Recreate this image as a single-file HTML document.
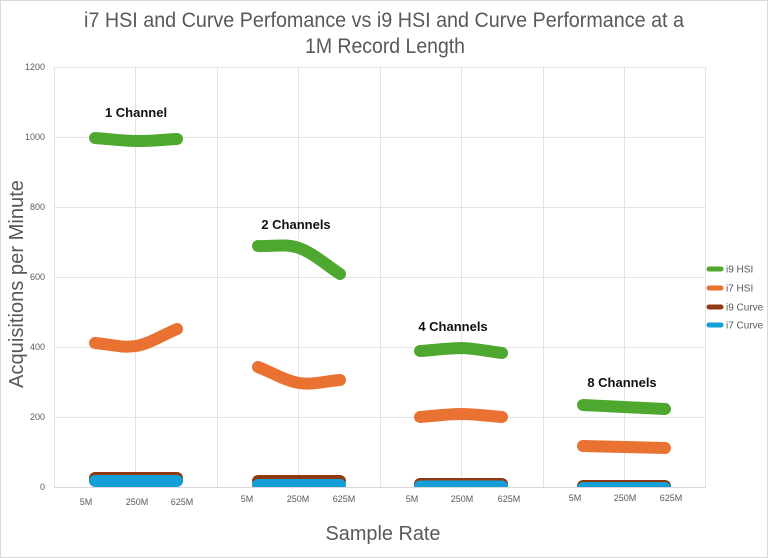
<!DOCTYPE html>
<html>
<head>
<meta charset="utf-8">
<style>
  html,body{margin:0;padding:0;background:#fff;}
  svg{display:block;}
  .t{font-family:"Liberation Sans Narrow","Liberation Sans",sans-serif;fill:#595959;}
  .s{font-family:"Liberation Sans",sans-serif;fill:#595959;}
  .b{font-family:"Liberation Sans",sans-serif;font-weight:bold;fill:#111;font-size:13px;text-anchor:middle;}
</style>
</head>
<body>
<svg width="768" height="558" viewBox="0 0 768 558" xmlns="http://www.w3.org/2000/svg">
  <rect x="0.5" y="0.5" width="767" height="557" fill="#fff" stroke="#d9d9d9" stroke-width="1"/>

  <!-- Title -->
  <text class="t" x="384" y="27" font-size="21" text-anchor="middle" textLength="600" lengthAdjust="spacingAndGlyphs">i7 HSI and Curve Perfomance vs i9 HSI and Curve Performance at a</text>
  <text class="t" x="385" y="53" font-size="21" text-anchor="middle" textLength="160" lengthAdjust="spacingAndGlyphs">1M Record Length</text>

  <!-- Gridlines -->
  <g stroke="#e3e3e3" stroke-width="1" fill="none">
    <line x1="54" y1="67.5" x2="706" y2="67.5"/>
    <line x1="54" y1="137.5" x2="706" y2="137.5"/>
    <line x1="54" y1="207.5" x2="706" y2="207.5"/>
    <line x1="54" y1="277.5" x2="706" y2="277.5"/>
    <line x1="54" y1="347.5" x2="706" y2="347.5"/>
    <line x1="54" y1="417.5" x2="706" y2="417.5"/>
    <line x1="54.5" y1="67" x2="54.5" y2="487"/>
    <line x1="135.5" y1="67" x2="135.5" y2="487"/>
    <line x1="217.5" y1="67" x2="217.5" y2="487"/>
    <line x1="298.5" y1="67" x2="298.5" y2="487"/>
    <line x1="380.5" y1="67" x2="380.5" y2="487"/>
    <line x1="461.5" y1="67" x2="461.5" y2="487"/>
    <line x1="543.5" y1="67" x2="543.5" y2="487"/>
    <line x1="624.5" y1="67" x2="624.5" y2="487"/>
    <line x1="705.5" y1="67" x2="705.5" y2="487"/>
  </g>
  <line x1="54" y1="487.5" x2="706" y2="487.5" stroke="#d9d9d9" stroke-width="1"/>

  <!-- Y tick labels -->
  <g class="s" font-size="9" text-anchor="end">
    <text x="45" y="70">1200</text>
    <text x="45" y="140">1000</text>
    <text x="45" y="210">800</text>
    <text x="45" y="280">600</text>
    <text x="45" y="350">400</text>
    <text x="45" y="420">200</text>
    <text x="45" y="490">0</text>
  </g>

  <!-- Y axis title -->
  <text class="t" x="0" y="0" font-size="20" text-anchor="middle" textLength="208" lengthAdjust="spacingAndGlyphs" transform="translate(23,284) rotate(-90)">Acquisitions per Minute</text>

  <!-- X axis title -->
  <text class="t" x="383" y="540" font-size="20" text-anchor="middle" textLength="115" lengthAdjust="spacingAndGlyphs">Sample Rate</text>

  <!-- X tick labels -->
  <g class="s" font-size="9" text-anchor="middle">
    <text x="86" y="505">5M</text><text x="137" y="505">250M</text><text x="182" y="505">625M</text>
    <text x="247" y="502">5M</text><text x="298" y="502">250M</text><text x="344" y="502">625M</text>
    <text x="412" y="502">5M</text><text x="462" y="502">250M</text><text x="509" y="502">625M</text>
    <text x="575" y="501">5M</text><text x="625" y="501">250M</text><text x="671" y="501">625M</text>
  </g>

  <defs>
    <clipPath id="pa"><rect x="40" y="60" width="680" height="427"/></clipPath>
  </defs>

  <g clip-path="url(#pa)" fill="none" stroke-width="12" stroke-linecap="round" stroke-linejoin="round">
    <!-- i9 HSI green -->
    <g stroke="#4ea72e">
      <path d="M95,138 C108.7,139 122.3,140.8 136,141 C149.7,141.2 163.3,139.7 177,139"/>
      <path d="M258,246 C271.7,246.7 285.3,243.3 299,248 C312.7,252.7 326.3,265 340,274"/>
      <path d="M420,351 C433.7,350 447.3,348.3 461,348 C474.7,348.3 488.3,351.3 502,353"/>
      <path d="M583,405 C596.7,405.7 610.3,406.3 624,407 C637.7,407.7 651.3,408.3 665,409"/>
    </g>
    <!-- i7 HSI orange -->
    <g stroke="#e97132">
      <path d="M95,343 C108.7,344 122.3,348.3 136,346 C149.7,343.7 163.3,334.7 177,329"/>
      <path d="M258,367 C271.7,372.3 285.3,380.8 299,383 C312.7,385.2 326.3,381 340,380"/>
      <path d="M420,417 C433.7,416 447.3,414 461,414 C474.7,414 488.3,416 502,417"/>
      <path d="M583,446 C596.7,446.3 610.3,446.7 624,447 C637.7,447.3 651.3,447.7 665,448"/>
    </g>
    <!-- i9 Curve brown -->
    <g stroke="#8e3b14">
      <path d="M95,478 L177,478"/>
      <path d="M258,481 L340,481"/>
      <path d="M420,484 L502,484"/>
      <path d="M583,486 L665,486"/>
    </g>
    <!-- i7 Curve blue -->
    <g stroke="#149fd6">
      <path d="M95,481 L177,481"/>
      <path d="M258,485 L340,485"/>
      <path d="M420,486.5 L502,486.5"/>
      <path d="M583,488 L665,488"/>
    </g>
  </g>

  <!-- Channel labels -->
  <text class="b" x="136" y="117">1 Channel</text>
  <text class="b" x="296" y="229">2 Channels</text>
  <text class="b" x="453" y="331">4 Channels</text>
  <text class="b" x="622" y="387">8 Channels</text>

  <!-- Legend -->
  <g stroke-width="5" stroke-linecap="round">
    <line x1="709" y1="269" x2="721" y2="269" stroke="#4ea72e"/>
    <line x1="709" y1="288" x2="721" y2="288" stroke="#e97132"/>
    <line x1="709" y1="307" x2="721" y2="307" stroke="#8e3b14"/>
    <line x1="709" y1="325" x2="721" y2="325" stroke="#149fd6"/>
  </g>
  <g class="s" font-size="10">
    <text x="726" y="272.5">i9 HSI</text>
    <text x="726" y="291.5">i7 HSI</text>
    <text x="726" y="310.5">i9 Curve</text>
    <text x="726" y="328.5">i7 Curve</text>
  </g>
</svg>
</body>
</html>
